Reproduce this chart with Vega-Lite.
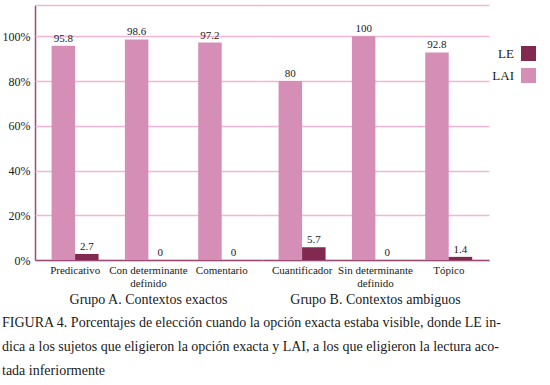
{
  "$schema": "https://vega.github.io/schema/vega-lite/v6.json",
  "padding": {"left": 2, "top": 5, "right": 5, "bottom": 2},
  "data": {"values": [
    {"group": "Grupo A. Contextos exactos", "category": "Predicativo", "series": "LAI", "value": 95.8},
    {"group": "Grupo A. Contextos exactos", "category": "Predicativo", "series": "LE", "value": 2.7},
    {"group": "Grupo A. Contextos exactos", "category": "Con determinante definido", "series": "LAI", "value": 98.6},
    {"group": "Grupo A. Contextos exactos", "category": "Con determinante definido", "series": "LE", "value": 0},
    {"group": "Grupo A. Contextos exactos", "category": "Comentario", "series": "LAI", "value": 97.2},
    {"group": "Grupo A. Contextos exactos", "category": "Comentario", "series": "LE", "value": 0},
    {"group": "Grupo B. Contextos ambiguos", "category": "Cuantificador", "series": "LAI", "value": 80},
    {"group": "Grupo B. Contextos ambiguos", "category": "Cuantificador", "series": "LE", "value": 5.7},
    {"group": "Grupo B. Contextos ambiguos", "category": "Sin determinante definido", "series": "LAI", "value": 100},
    {"group": "Grupo B. Contextos ambiguos", "category": "Sin determinante definido", "series": "LE", "value": 0},
    {"group": "Grupo B. Contextos ambiguos", "category": "Tópico", "series": "LAI", "value": 92.8},
    {"group": "Grupo B. Contextos ambiguos", "category": "Tópico", "series": "LE", "value": 1.4}
  ]},
  "title": {
    "text": [
      "FIGURA 4. Porcentajes de elección cuando la opción exacta estaba visible, donde LE in-",
      "dica a los sujetos que eligieron la opción exacta y LAI, a los que eligieron la lectura aco-",
      "tada inferiormente"
    ],
    "orient": "bottom",
    "anchor": "start",
    "frame": "bounds",
    "font": "Liberation Serif",
    "fontSize": 14,
    "fontWeight": "normal",
    "color": "#1a1a1a",
    "lineHeight": 24,
    "offset": 9
  },
  "facet": {
    "column": {
      "field": "group",
      "type": "nominal",
      "sort": null,
      "header": {
        "title": null,
        "labelOrient": "bottom",
        "labelFont": "Liberation Serif",
        "labelFontSize": 14,
        "labelColor": "#1a1a1a",
        "labelPadding": 5
      }
    }
  },
  "spacing": 0,
  "resolve": {"scale": {"x": "independent"}},
  "spec": {
    "width": 227,
    "height": 255,
    "encoding": {
      "x": {
        "field": "category",
        "type": "nominal",
        "sort": null,
        "title": null,
        "scale": {"paddingInner": 0.356, "paddingOuter": 0.226},
        "axis": {
          "labelAngle": 0,
          "ticks": false,
          "labelPadding": 4,
          "labelFontSize": 11,
          "labelExpr": "indexof(datum.label, ' definido') > 0 ? [replace(datum.label, ' definido', ''), 'definido'] : datum.label",
          "domainColor": "#9b4a72",
          "domainWidth": 1.5
        }
      },
      "xOffset": {"field": "series", "type": "nominal", "scale": {"domain": ["LAI", "LE"], "range": [0, 47]}},
      "y": {
        "field": "value",
        "type": "quantitative",
        "title": null,
        "scale": {"domain": [0, 114], "nice": false},
        "axis": {
          "values": [0, 20, 40, 60, 80, 100, 114],
          "labelExpr": "datum.value > 100 ? '' : datum.value + '%'",
          "ticks": false,
          "labelPadding": 5,
          "grid": true,
          "gridColor": "#f3b5d3",
          "gridWidth": 1.5,
          "domainColor": "#9b4a72",
          "domainWidth": 1.5
        }
      }
    },
    "layer": [
      {
        "mark": {"type": "bar"},
        "encoding": {
          "color": {
            "field": "series",
            "type": "nominal",
            "scale": {"domain": ["LE", "LAI"], "range": ["#82294f", "#d58fb6"]},
            "legend": {
              "title": null,
              "orient": "none",
              "legendX": 486,
              "legendY": 41,
              "symbolType": "square",
              "symbolSize": 225,
              "symbolStrokeWidth": 0,
              "labelFont": "Liberation Serif",
              "labelFontSize": 13,
              "labelColor": "#1a1a1a",
              "labelAlign": "right",
              "labelOffset": -22,
              "rowPadding": 7,
              "padding": 0
            }
          }
        }
      },
      {
        "mark": {"type": "text", "baseline": "bottom", "dy": -2, "font": "Liberation Serif", "fontSize": 11, "color": "#1a1a1a"},
        "encoding": {"text": {"field": "value", "type": "quantitative"}}
      }
    ]
  },
  "config": {
    "view": {"stroke": null},
    "axis": {"labelFont": "Liberation Serif", "labelFontSize": 12, "labelColor": "#1a1a1a"}
  }
}
